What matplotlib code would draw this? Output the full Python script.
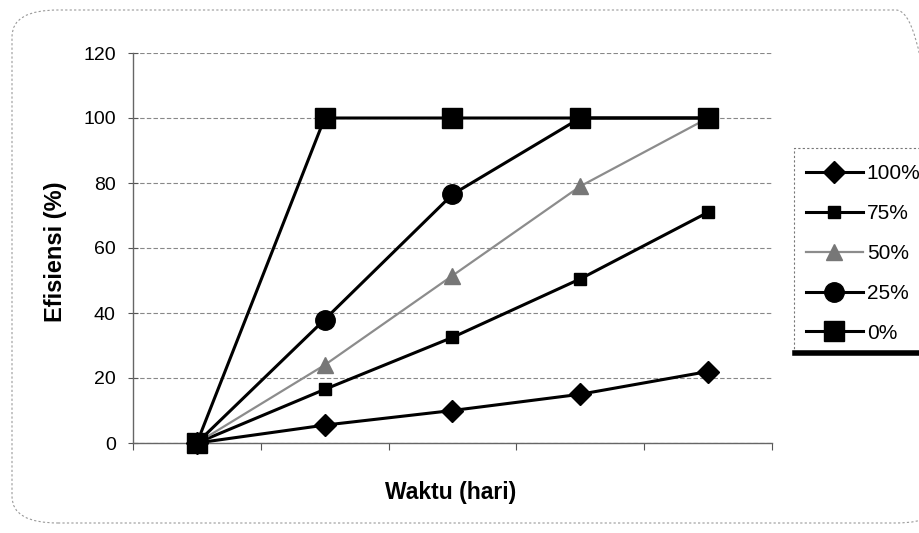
import matplotlib.pyplot as plt
from matplotlib.patches import FancyBboxPatch, Rectangle
from matplotlib.lines import Line2D
import numpy as np

# data
days = ["1", "2", "3", "4", "5"]
eff_100 = [0, 5.5, 10, 15, 22]
eff_75 = [0, 16.5, 32.5, 50.5, 71]
eff_50 = [0, 24, 51.5, 79, 100]
eff_25 = [0, 38, 76.5, 100, 100]
eff_0 = [0, 100, 100, 100, 100]
series_labels = ["100%", "75%", "50%", "25%", "0%"]
y_ticks = [0, 20, 40, 60, 80, 100, 120]

plt.rcParams['font.family'] = ['Liberation Sans', 'DejaVu Sans']

fig = plt.figure(figsize=(9.2, 5.33), dpi=100)
ax = fig.add_axes([133 / 920, 90 / 533, 639 / 920, 390 / 533])

x = np.arange(len(days))
styles = [
    dict(color='black', lw=2.2, marker='D', ms=11),
    dict(color='black', lw=2.2, marker='s', ms=8),
    dict(color='#8c8c8c', lw=1.6, marker='^', ms=11, mfc='#777777', mec='#777777'),
    dict(color='black', lw=2.2, marker='o', ms=14),
    dict(color='black', lw=2.2, marker='s', ms=15),
]
series = [eff_100, eff_75, eff_50, eff_25, eff_0]
lines = []
for vals, lab, st in zip(series, series_labels, styles):
    ln, = ax.plot(x, vals, label=lab, clip_on=False, zorder=3, **st)
    lines.append(ln)

ax.set_xlim(-0.5, len(days) - 0.5)
ax.set_ylim(0, 120)
ax.set_yticks(y_ticks)
ax.set_xticks(np.arange(len(days) + 1) - 0.5)
ax.set_xticklabels([])
ax.tick_params(axis='x', direction='out', length=5, color='#555555')
ax.tick_params(axis='y', direction='inout', length=7, color='#555555', labelsize=14, pad=9)
ax.grid(axis='y', color='#888888', ls=(0, (4, 2)), lw=0.8)
ax.set_axisbelow(True)
for s in ['top', 'right']:
    ax.spines[s].set_visible(False)
for s in ['left', 'bottom']:
    ax.spines[s].set_color('#666666')
    ax.spines[s].set_linewidth(1.0)

fig.text(56 / 920, 281 / 533, "Efisiensi (%)", rotation=90, ha='center', va='center',
         fontsize=17, fontweight='bold')
fig.text(451 / 920, 41 / 533, "Waktu (hari)", ha='center', va='center',
         fontsize=16.5, fontweight='bold')

# legend box with shadow line at the bottom, cut by the right edge
fig.patches.append(Rectangle((794 / 920, 181 / 533), 140 / 920, 204 / 533,
                             transform=fig.transFigure, fill=False,
                             edgecolor='#777777', lw=0.8, ls=(0, (2, 2))))
fig.lines.append(Line2D([795 / 920, 1.0], [180 / 533, 180 / 533],
                        transform=fig.transFigure, color='black', lw=4))
leg = fig.legend(handles=lines, labels=series_labels, loc='upper left',
                 bbox_to_anchor=(798 / 920, 377 / 533), frameon=False,
                 fontsize=15, handlelength=2.7, handletextpad=0.2,
                 labelspacing=1.0, borderaxespad=0)

# rounded chart-area border
fig.patches.append(FancyBboxPatch((12 / 920, 10 / 533), 930 / 920, 513 / 533,
                                  boxstyle="round,pad=0,rounding_size=0.05",
                                  transform=fig.transFigure, fill=False,
                                  edgecolor='#999999', lw=0.8, ls=(0, (2, 2))))

fig.savefig("out.png", dpi=100)
